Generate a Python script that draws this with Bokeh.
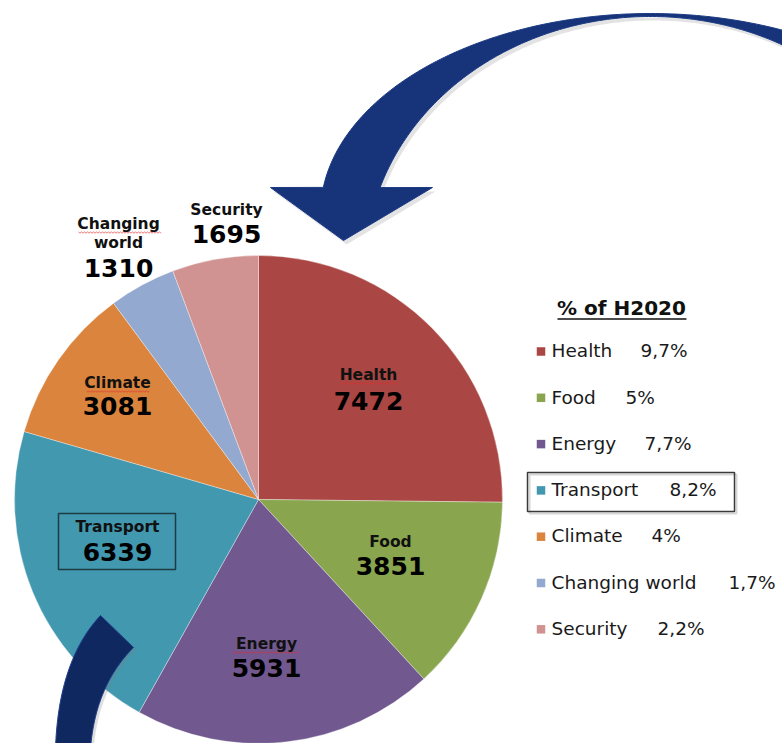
import numpy as np
from bokeh.plotting import figure
from bokeh.models import Range1d, ColumnDataSource
from bokeh.embed import file_html
from bokeh.resources import INLINE
from bokeh.core.properties import value

# ---------------- data ----------------
categories = ["Health", "Food", "Energy", "Transport", "Climate", "Changing world", "Security"]
budgets = [7472, 3851, 5931, 6339, 3081, 1310, 1695]
share_labels = ["9,7%", "5%", "7,7%", "8,2%", "4%", "1,7%", "2,2%"]
legend_title = "% of H2020"

# ---------------- style / layout ----------------
colors = ["#AA4643", "#89A54E", "#71588F", "#4198AF", "#DB843D", "#93A9CF", "#D19392"]
W, H = 782, 743
PIE_CX, PIE_CY, PIE_R = 258, 499, 244          # screen pixels

# label layout: (x centre, [name lines with baselines], number baseline)
label_layout = {
    "Health":         (368, [("Health", 380)], 410),
    "Food":           (390, [("Food", 547)], 575),
    "Energy":         (266, [("Energy", 649)], 677),
    "Transport":      (117, [("Transport", 532)], 561),
    "Climate":        (117, [("Climate", 388)], 415),
    "Changing world": (118, [("Changing", 229), ("world", 248)], 277),
    "Security":       (226, [("Security", 215)], 243),
}
legend_text_x = 551
legend_pct_x = [640, 625, 644, 669, 651, 728, 657]
legend_row0, legend_step = 357, 46.3
FONT = value("DejaVu Sans")
NAME_FS, NUM_FS, LEG_FS, TITLE_FS = 15.5, 25, 18.5, 20


def Y(sy):
    return H - np.asarray(sy, dtype=float)


def Yt(baseline, fs):
    # text is placed by its visual middle; convert a wanted baseline
    return H - (np.asarray(baseline, dtype=float) - 0.365 * fs)


p = figure(width=W, height=H, x_range=Range1d(0, W), y_range=Range1d(0, H),
           output_backend="svg", toolbar_location=None,
           x_axis_location=None, y_axis_location=None, min_border=0,
           outline_line_color=None, background_fill_color="white",
           border_fill_color="white")
p.grid.visible = False

# ---------------- pie ----------------
vals = np.array(budgets, dtype=float)
frac = vals / vals.sum()
cum = np.concatenate([[0.0], np.cumsum(frac)])
start = np.pi / 2 - 2 * np.pi * cum[:-1]
end = np.pi / 2 - 2 * np.pi * cum[1:]
src = ColumnDataSource(dict(cat=categories, val=budgets, start=start, end=end, color=colors))
p.wedge(x=PIE_CX, y=float(Y(PIE_CY)), radius=PIE_R, start_angle="start", end_angle="end",
        direction="clock", fill_color="color", line_color="white", line_alpha=0.35,
        line_width=1, source=src)

# ---------------- decorative arrows ----------------
def bez(p0, p1, p2, n=40):
    t = np.linspace(0, 1, n)[:, None]
    pts = (1 - t) ** 2 * np.array(p0) + 2 * (1 - t) * t * np.array(p1) + t ** 2 * np.array(p2)
    return pts[:, 0], pts[:, 1]

# top curved arrow (elliptic band + head)
to = np.radians(np.linspace(30, 172.5, 160))
ox = 650 + 330 * np.cos(to)
oy = 213 - 200 * np.sin(to)
ti = np.radians(np.linspace(161.6, 30, 160))
ix = 650 + 285 * np.cos(ti)
iy = 266 - 250 * np.sin(ti)
hx = np.array([270, 343, 432])
hy = np.array([187, 240, 187])
ax = np.concatenate([ox, hx, ix])
ay = np.concatenate([oy, hy, iy])
p.patch(ax + 3, Y(ay + 4), fill_color="#7f7f7f", fill_alpha=0.22, line_color=None)
p.patch(ax, Y(ay), fill_color="#17347A", line_color="#1B3A84", line_width=1)

# bottom arrow tail
lx, ly = bez((55, 748), (58, 660), (100, 615))
rx, ry = bez((133, 647), (95, 685), (90, 748))
bx = np.concatenate([lx, rx])
by = np.concatenate([ly, ry])
p.patch(bx + 3, Y(by + 2), fill_color="#7f7f7f", fill_alpha=0.25, line_color=None)
p.patch(bx, Y(by), fill_color="#0F2960", line_color="#1F3C8C", line_width=1)

# ---------------- labels in / around the pie ----------------
name_x, name_y, name_t = [], [], []
num_x, num_y, num_t = [], [], []
for cat, v in zip(categories, budgets):
    x, lines, nb = label_layout[cat]
    for t, b in lines:
        name_x.append(x); name_y.append(b); name_t.append(t)
    num_x.append(x); num_y.append(nb); num_t.append(str(v))

# spell-check squiggles under a few names
for (x0, x1, yy) in [(340, 397, 383), (232, 298, 652), (86, 150, 391), (78, 161, 232)]:
    xs = np.arange(x0, x1 + 0.1, 1.5)
    ys = yy + np.where(np.arange(len(xs)) % 2 == 0, -0.8, 0.8)
    p.line(xs, Y(ys), line_color="#E03030", line_width=0.8, line_alpha=0.8)

p.text(x=name_x, y=list(Yt(name_y, NAME_FS)), text=name_t, text_font=FONT,
       text_font_style="bold", text_font_size=f"{NAME_FS}px", text_align="center",
       text_baseline="middle", text_color="#111111")
p.text(x=num_x, y=list(Yt(num_y, NUM_FS)), text=num_t, text_font=FONT,
       text_font_style="bold", text_font_size=f"{NUM_FS}px", text_align="center",
       text_baseline="middle", text_color="#000000")

# transport highlight box in the pie
p.quad(left=58, right=175, top=float(Y(513)), bottom=float(Y(569)), fill_color=None,
       line_color="#1F3B44", line_width=1.5)

# ---------------- legend ----------------
p.text(x=[621], y=[float(Yt(315, TITLE_FS))], text=[legend_title], text_font=FONT,
       text_font_style="bold", text_font_size=f"{TITLE_FS}px", text_align="center",
       text_baseline="middle", text_color="#111111")
p.line([557, 686], [float(Y(318.5))] * 2, line_color="#111111", line_width=1.6)

rows = legend_row0 + legend_step * np.arange(len(categories))
p.rect(x=[540.5] * len(categories), y=list(Y(rows - 6)), width=8.5, height=8.5,
       fill_color=colors, line_color=None)
p.text(x=[legend_text_x] * len(categories), y=list(Yt(rows, LEG_FS)), text=categories,
       text_font=FONT, text_font_size=f"{LEG_FS}px", text_align="left",
       text_baseline="middle", text_color="#1a1a1a")
p.text(x=legend_pct_x, y=list(Yt(rows, LEG_FS)), text=share_labels, text_font=FONT,
       text_font_size=f"{LEG_FS}px", text_align="left", text_baseline="middle",
       text_color="#1a1a1a")

# transport legend box with soft shadow
p.quad(left=529, right=736, top=float(Y(474)), bottom=float(Y(513)), fill_color=None,
       line_color="#bbbbbb", line_width=2, line_alpha=0.6)
p.quad(left=527, right=734, top=float(Y(472)), bottom=float(Y(511)), fill_color=None,
       line_color="#3a3a3a", line_width=1.5)

open("out.html", "w").write(file_html(p, INLINE))
